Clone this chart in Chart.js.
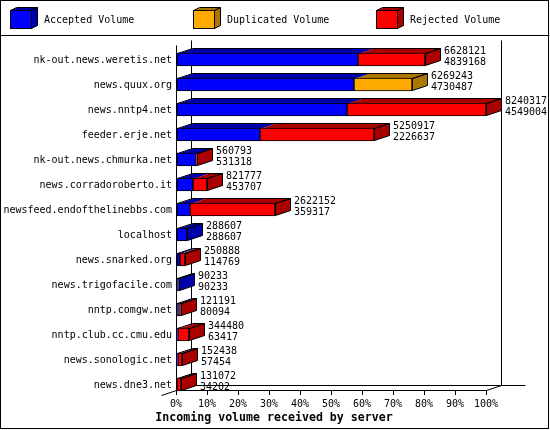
<!DOCTYPE html>
<html><head><meta charset="utf-8">
<style>html,body{margin:0;padding:0;background:#fff;overflow:hidden}canvas{display:block}</style>
<script src="https://cdn.jsdelivr.net/npm/chart.js@4"></script>
</head><body><div style="width:550px;height:430px"><canvas id="c" width="550" height="430"></canvas></div>
<script>
const categories = ["nk-out.news.weretis.net","news.quux.org","news.nntp4.net","feeder.erje.net","nk-out.news.chmurka.net","news.corradoroberto.it","newsfeed.endofthelinebbs.com","localhost","news.snarked.org","news.trigofacile.com","nntp.comgw.net","nntp.club.cc.cmu.edu","news.sonologic.net","news.dne3.net"];
const totals = [6628121,6269243,8240317,5250917,560793,821777,2622152,288607,250888,90233,121191,344480,152438,131072];
const accepted = [4839168,4730487,4549004,2226637,531318,453707,359317,288607,114769,90233,80094,63417,57454,34202];
const duplicated = [0,1538756,0,0,0,0,0,0,0,0,0,0,0,0];
const rejected = [1788953,0,3691313,3024280,29475,368070,2262835,0,136119,0,41097,281063,94984,96870];
const percentTicks = [0,10,20,30,40,50,60,70,80,90,100];
const axisMax = 8240317;
const seriesNames = ["Accepted Volume","Duplicated Volume","Rejected Volume"];
const frontColors = ["#0000ff","#ffaa00","#ff0000"];
const darkColors = ["#0000aa","#aa7700","#aa0000"];
const axisTitle = "Incoming volume received by server";
const legendX = [10,193,376];
const DX = 15, DY = 5;
const mono = '10px "DejaVu Sans Mono"';
const monoBold = 'bold 11.6px "DejaVu Sans Mono"';
const threeD = {
  id: 'threeD',
  beforeDatasetsDraw(chart) {
    const ctx = chart.ctx, xs = chart.scales.x;
    const x0 = Math.round(xs.getPixelForValue(0)), x1 = Math.round(xs.getPixelForValue(axisMax));
    const line = (a, b, c, d) => { ctx.beginPath(); ctx.moveTo(a + .5, b + .5); ctx.lineTo(c + .5, d + .5); ctx.stroke(); };
    ctx.save();
    ctx.strokeStyle = '#000'; ctx.lineWidth = 1;
    ctx.strokeRect(.5, .5, 548, 428);
    line(0, 35, 549, 35);
    line(x0, 45, x0, 390);
    line(x0 + DX, 40, x0 + DX, 385);
    line(x1 + DX, 40, x1 + DX, 385);
    line(x0, 390, x1, 390);
    line(x0 + DX, 385, x1 + DX + 24, 385);
    line(x0 - DX, 395, x0 + DX, 385);
    line(x1, 390, x1 + DX, 385);
    ctx.font = mono; ctx.textBaseline = 'middle'; ctx.textAlign = 'left';
    seriesNames.forEach((name, k) => {
      const x = legendX[k];
      drawBox(ctx, [[x, x + 21, k]], 10, 28, true, 6, 3);
      ctx.fillStyle = '#000';
      ctx.fillText(name, x + 34, 20);
    });
    const metas = chart.data.datasets.map((d, i) => chart.getDatasetMeta(i));
    categories.forEach((c, i) => {
      const segs = [];
      const cy = Math.round(metas[0].data[i].y);
      metas.forEach((m, k) => {
        const el = m.data[i];
        el.x = Math.round(el.x); el.base = Math.round(el.base); el.y = cy + .5;
        if (el.x > el.base) segs.push([el.base, el.x, k]);
      });
      const top = cy - 6, bot = top + 12;
      drawBox(ctx, segs, top, bot, false, DX, DY);
      const end = segs[segs.length - 1][1] + DX;
      ctx.fillStyle = '#000'; ctx.font = mono; ctx.textAlign = 'left';
      ctx.fillText(String(totals[i]), end + 4, top - 2);
      ctx.fillText(String(accepted[i]), end + 4, top + 9);
    });
    ctx.font = monoBold; ctx.textAlign = 'center'; ctx.fillStyle = '#000';
    ctx.fillText(axisTitle, 274, 418);
    ctx.restore();
  }
};
function drawBox(ctx, segs, top, bot, withFront, dx, dy) {
  const a = segs[0][0], b = segs[segs.length - 1][1], last = segs[segs.length - 1][2];
  segs.forEach(([s, e, k]) => {
    ctx.fillStyle = darkColors[k];
    ctx.beginPath();
    ctx.moveTo(s, top + 1); ctx.lineTo(s + dx, top - dy + 1); ctx.lineTo(e + dx, top - dy + 1); ctx.lineTo(e, top + 1);
    ctx.closePath(); ctx.fill();
  });
  ctx.fillStyle = darkColors[last];
  ctx.beginPath();
  ctx.moveTo(b + .5, top + .5); ctx.lineTo(b + dx + .5, top - dy + .5); ctx.lineTo(b + dx + .5, bot - dy + .5); ctx.lineTo(b + .5, bot + .5);
  ctx.closePath(); ctx.fill(); ctx.stroke();
  ctx.beginPath();
  ctx.moveTo(a + .5, top + .5); ctx.lineTo(a + dx + .5, top - dy + .5); ctx.lineTo(b + dx + .5, top - dy + .5); ctx.lineTo(b + .5, top + .5);
  ctx.closePath(); ctx.stroke();
  if (withFront) {
    ctx.fillStyle = frontColors[last];
    ctx.fillRect(a, top, b - a, bot - top);
    ctx.strokeRect(a + .5, top + .5, b - a, bot - top);
  }
}
new Chart(document.getElementById('c'), {
  type: 'bar',
  plugins: [threeD],
  data: {
    labels: categories,
    datasets: [accepted, duplicated, rejected].map((d, k) => ({
      label: seriesNames[k], data: d, backgroundColor: frontColors[k],
      borderColor: '#000', borderWidth: 1, borderSkipped: false, barThickness: 13, stack: 's'
    }))
  },
  options: {
    indexAxis: 'y', responsive: false, animation: false, devicePixelRatio: 1,
    layout: { padding: { top: 46.5, bottom: 33.5, left: 0, right: 64 } },
    plugins: { legend: { display: false }, tooltip: { enabled: false }, title: { display: false } },
    scales: {
      y: {
        stacked: true,
        border: { display: false }, grid: { display: false, drawTicks: false },
        ticks: { color: '#000', font: { family: 'DejaVu Sans Mono', size: 10 }, padding: 4, autoSkip: false, labelOffset: 1 },
        afterFit: s => { s.width = 176; }
      },
      x: {
        stacked: true, min: 0, max: axisMax,
        position: { y: 13.24 },
        border: { display: false },
        grid: { drawOnChartArea: false, drawTicks: true, tickLength: 5, color: '#000' },
        afterBuildTicks: s => { s.ticks = percentTicks.map(p => ({ value: p / 100 * axisMax })); },
        ticks: { color: '#000', font: { family: 'DejaVu Sans Mono', size: 10 }, padding: 3, autoSkip: false, maxRotation: 0,
          callback: v => Math.round(v / axisMax * 100) + '%' }
      }
    }
  }
});
</script></body></html>
